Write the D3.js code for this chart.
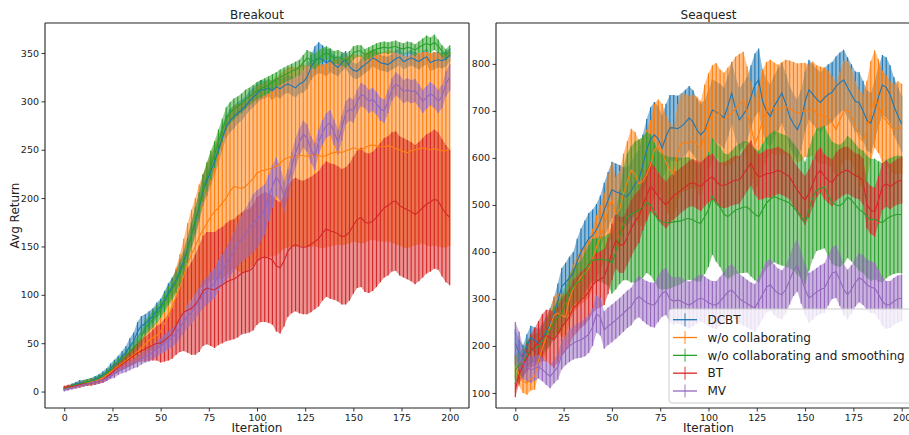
<!DOCTYPE html>
<html>
<head>
<meta charset="utf-8">
<script src="https://cdn.jsdelivr.net/npm/d3@7"></script>
<style>
  body { margin: 0; background: #fff; }
  svg { display: block; font-family: "DejaVu Sans", sans-serif; }
</style>
</head>
<body>
<svg width="909" height="435"></svg>
<script>
// iterations are sampled every 2 steps (0..200)
const iterations = d3.range(0, 201, 2);
const seriesNames = ["DCBT", "w/o collaborating", "w/o collaborating and smoothing", "BT", "MV"];
const colors = ["#1f77b4", "#ff7f0e", "#2ca02c", "#d62728", "#9467bd"];
const xTicks = [0, 25, 50, 75, 100, 125, 150, 175, 200];
const breakoutYTicks = [0, 50, 100, 150, 200, 250, 300, 350];
const seaquestYTicks = [100, 200, 300, 400, 500, 600, 700, 800];

// ---- Breakout: mean returns ----
const breakoutDCBT = [3,4,6,8,9,9,10,11,13,15,17,
  20,24,28,31,36,40,47,52,62,68,
  70,74,78,84,88,95,102,108,115,125,
  135,148,162,175,190,208,218,228,238,250,
  262,274,280,284,288,291,295,300,304,308,
  312,312,314,311,315,313,316,318,316,314,
  318,320,325,335,342,345,343,340,342,338,
  335,340,343,336,332,331,335,338,341,345,
  343,340,339,338,341,344,346,341,343,345,
  343,341,344,346,340,342,343,342,344,348];
const breakoutNoCollab = [3,4,5,6,7,8,9,10,11,12,14,
  17,20,23,26,29,32,35,38,41,45,
  49,53,56,58,62,70,78,88,98,108,
  120,132,142,150,160,167,174,181,186,190,
  195,200,207,212,211,210,212,216,220,226,
  228,229,230,231,233,236,240,242,243,242,
  244,244,243,244,245,244,243,244,246,247,
  248,247,249,250,252,251,250,252,254,255,
  254,253,253,254,253,251,250,248,247,249,
  250,251,252,251,250,251,250,249,249,251];
const breakoutNoCollabSmooth = [3,4,6,7,8,9,10,11,12,14,16,
  19,22,26,30,33,37,41,45,50,56,
  66,70,75,80,85,92,99,106,113,122,
  132,146,162,177,192,210,222,234,245,258,
  270,282,288,292,295,298,302,305,308,311,
  313,315,317,320,322,325,327,329,331,333,
  335,340,345,343,341,345,348,350,348,345,
  346,344,342,345,350,352,352,348,350,352,
  354,355,356,355,356,357,355,354,356,355,
  353,356,358,360,358,361,357,352,348,352];
const breakoutBT = [4,5,5,6,7,8,8,9,10,11,12,
  15,18,22,25,28,31,34,37,40,42,
  44,46,48,50,50,53,56,60,68,76,
  82,84,86,90,96,104,107,106,105,108,
  110,113,115,116,119,122,124,125,128,135,
  138,139,138,136,130,128,135,145,150,152,
  150,149,150,152,155,158,164,168,166,165,
  163,160,161,165,172,178,180,175,174,176,
  180,185,190,192,196,197,192,190,188,186,
  183,186,190,194,196,199,197,190,184,180];
const breakoutMV = [2,3,4,5,6,7,8,9,10,11,12,
  14,16,18,21,23,25,27,29,31,34,
  36,38,41,44,47,50,53,56,60,66,
  72,78,82,88,94,100,104,108,112,120,
  126,132,138,145,152,158,163,168,174,178,
  183,188,200,212,222,215,202,215,232,247,
  258,266,262,250,243,258,268,275,278,268,
  258,272,288,292,290,300,307,305,300,302,
  298,292,290,300,312,318,315,310,312,310,
  311,306,300,304,308,305,300,305,318,325];

// ---- Breakout: error (half width) ----
const breakoutDCBTErr = [2,2,2,2,3,3,3,3,3,3,4,
  4,5,5,6,6,7,8,9,10,10,
  10,9,8,8,8,9,10,10,11,12,
  12,13,14,15,15,16,16,15,14,14,
  13,12,12,12,11,11,10,10,10,10,
  10,9,9,10,10,10,9,9,10,10,
  10,11,12,13,15,16,15,14,12,10,
  9,9,9,8,8,8,9,9,9,9,
  9,8,8,8,8,9,9,8,8,8,
  8,8,8,8,9,9,8,8,8,7];
const breakoutNoCollabErr = [2,2,2,2,3,3,3,3,3,3,4,
  4,5,5,6,6,7,7,8,9,10,
  11,12,13,14,16,18,22,26,30,34,
  38,42,46,50,54,58,62,66,70,74,
  78,80,82,84,86,88,88,89,90,90,
  90,90,91,91,92,92,92,93,93,93,
  93,94,94,94,95,95,95,95,96,96,
  96,96,97,97,97,97,97,98,98,98,
  98,98,98,99,99,99,99,99,99,99,
  99,99,99,100,100,100,100,100,100,100];
const breakoutNoCollabSmoothErr = [2,2,2,2,2,3,3,3,3,3,3,
  4,4,5,5,5,6,6,7,7,8,
  8,8,9,9,9,10,10,11,11,12,
  12,13,13,14,14,14,15,15,14,13,
  12,12,11,11,10,10,10,9,9,9,
  9,9,9,8,8,8,8,8,8,8,
  8,8,8,8,8,8,7,7,7,7,
  7,7,7,7,7,6,6,6,6,6,
  6,6,6,6,6,6,6,6,6,6,
  6,6,7,8,8,8,7,6,6,6];
const breakoutBTErr = [2,2,2,2,2,2,2,3,3,3,3,
  4,4,5,5,6,7,8,9,10,11,
  13,14,16,18,20,22,24,26,30,35,
  40,44,48,52,55,57,58,59,60,60,
  60,61,62,62,63,63,64,64,65,66,
  66,67,67,67,68,68,68,68,69,69,
  69,69,70,70,70,70,70,70,70,70,
  70,70,71,71,71,71,72,72,72,72,
  72,72,72,72,72,72,72,72,72,72,
  72,72,72,72,72,72,71,71,71,70];
const breakoutMVErr = [2,2,2,2,2,2,2,2,3,3,3,
  3,3,4,4,4,5,5,5,6,6,
  6,7,7,8,8,9,9,10,10,11,
  11,12,12,13,13,14,14,15,15,16,
  16,17,18,20,22,24,26,28,30,30,
  28,26,24,22,20,18,16,15,15,15,
  14,14,14,14,14,13,13,13,13,13,
  13,13,12,12,12,12,12,12,12,12,
  12,12,12,12,12,12,12,12,12,12,
  12,12,12,12,12,12,12,12,13,14];

// ---- Seaquest: mean returns ----
const seaquestDCBT = [206,185,177,200,218,212,206,218,230,245,268,
  295,326,335,345,355,380,400,415,428,435,
  447,465,489,510,532,528,525,520,518,530,
  545,553,585,617,640,649,640,621,645,664,
  664,662,667,675,685,676,660,649,658,680,
  702,698,692,685,710,738,705,681,692,705,
  730,755,766,720,700,688,710,724,738,715,
  688,672,660,681,720,745,735,725,718,728,
  735,740,752,760,766,750,735,720,718,700,
  680,674,700,730,755,750,735,710,690,672];
const seaquestNoCollab = [156,140,125,121,130,135,170,195,220,241,265,
  270,265,262,300,322,335,347,355,365,385,
  410,430,454,490,511,480,490,525,550,574,
  565,545,550,565,585,617,624,615,590,574,
  565,610,632,632,632,636,630,617,650,675,
  695,702,690,681,688,695,705,715,724,695,
  665,630,650,681,700,709,705,702,706,709,
  705,700,695,698,702,700,705,695,690,690,
  685,675,660,680,700,702,690,665,645,635,
  660,700,725,710,688,680,668,660,665,662];
const seaquestNoCollabSmooth = [149,160,164,180,191,196,198,210,225,234,250,
  262,270,290,313,325,335,340,355,370,383,
  383,385,383,383,376,400,432,460,475,480,
  485,489,495,505,500,485,468,464,462,462,
  464,465,466,470,471,468,463,461,475,490,
  518,505,496,480,475,482,489,492,495,496,
  488,480,475,490,504,512,518,514,511,508,
  504,495,486,475,462,490,515,532,535,538,
  520,505,500,498,505,517,510,500,490,485,
  475,468,470,465,462,470,475,478,480,479];
const seaquestBT = [106,140,160,175,190,198,208,218,222,218,213,
  225,240,250,262,280,288,298,305,315,330,
  338,342,347,370,400,425,415,415,432,450,
  465,475,500,520,539,530,518,508,500,510,
  520,525,532,538,545,547,543,539,548,555,
  560,550,542,542,545,550,553,553,565,578,
  589,570,560,562,567,567,570,574,570,565,
  560,545,532,520,510,525,545,565,574,560,
  553,547,560,567,572,574,568,562,560,550,
  500,489,485,510,539,545,539,545,550,553];
const seaquestMV = [206,190,164,155,149,152,156,150,142,135,145,
  156,180,191,200,206,210,213,218,225,240,
  268,262,234,242,248,255,262,270,278,284,
  298,305,298,292,288,287,300,312,316,300,
  295,298,295,290,287,292,298,302,298,292,
  288,287,295,305,315,319,310,300,295,290,
  285,281,295,310,325,330,320,312,309,320,
  340,360,372,345,320,302,308,315,320,323,
  340,355,358,340,320,309,320,335,345,340,
  330,325,323,310,295,287,288,295,300,302];

// ---- Seaquest: error (half width) ----
const seaquestDCBTErr = [30,28,25,25,25,28,30,30,32,35,35,
  38,40,42,45,45,48,50,52,55,55,
  55,55,58,60,60,60,60,60,62,62,
  62,64,65,66,68,70,70,70,70,70,
  70,70,70,70,68,68,66,66,65,65,
  65,65,65,65,65,66,66,66,67,67,
  67,67,67,68,68,68,66,66,64,64,
  64,64,64,64,64,64,64,64,64,64,
  64,64,64,64,64,64,64,64,64,64,
  64,64,64,64,64,64,62,62,60,60];
const seaquestNoCollabErr = [25,25,25,25,25,28,30,32,35,38,40,
  42,45,48,50,52,55,58,60,62,65,
  68,70,72,75,78,80,82,84,86,88,
  90,92,94,95,96,98,100,100,100,100,
  102,104,105,103,100,98,100,104,106,105,
  102,100,98,100,104,108,110,106,102,100,
  98,100,104,106,104,100,98,96,98,100,
  102,104,106,104,100,98,100,102,104,102,
  100,98,100,104,106,104,100,98,100,102,
  104,106,104,100,98,96,95,96,98,96];
const seaquestNoCollabSmoothErr = [30,30,30,30,30,30,30,32,33,34,35,
  36,37,38,39,40,41,42,43,44,45,
  46,48,50,55,65,80,100,120,135,145,
  150,150,150,150,150,148,146,144,142,140,
  138,136,134,132,130,128,126,124,122,122,
  124,126,128,130,132,134,136,138,140,140,
  140,140,140,140,140,140,140,140,140,140,
  138,136,134,132,130,130,130,130,130,130,
  130,130,130,130,130,130,130,130,130,130,
  130,130,128,128,127,126,125,125,125,125];
const seaquestBTErr = [15,20,25,30,35,40,45,50,55,58,60,
  60,60,60,60,60,60,60,60,60,60,
  60,60,60,60,60,60,60,60,60,60,
  58,56,55,54,53,52,51,50,50,50,
  50,49,48,48,49,50,51,52,51,50,
  49,48,48,49,50,51,52,51,50,49,
  48,48,49,50,51,52,51,50,49,48,
  48,49,50,51,52,51,50,49,48,48,
  49,50,51,52,51,50,49,48,48,49,
  50,51,52,51,50,49,48,48,49,50];
const seaquestMVErr = [45,40,35,30,28,26,25,25,25,25,25,
  28,30,32,34,35,36,38,40,40,40,
  40,40,40,40,40,40,40,40,40,40,
  42,44,45,46,47,48,49,50,50,50,
  50,50,50,50,50,50,50,50,50,50,
  50,51,52,53,54,55,54,53,52,51,
  50,51,52,53,54,55,54,53,52,51,
  52,54,56,55,54,53,52,51,52,53,
  54,55,56,55,54,53,52,51,52,53,
  54,55,54,53,52,51,50,50,50,50];

const svg = d3.select("svg");
const plotTop = 23, plotBottom = 408;

const panels = [
  {
    title: "Breakout", left: 45, right: 469, yDomain: [-17, 381], yTicks: breakoutYTicks,
    means: [breakoutDCBT, breakoutNoCollab, breakoutNoCollabSmooth, breakoutBT, breakoutMV],
    errs: [breakoutDCBTErr, breakoutNoCollabErr, breakoutNoCollabSmoothErr, breakoutBTErr, breakoutMVErr],
    ylabel: "Avg Return", legend: false
  },
  {
    title: "Seaquest", left: 496, right: 921, yDomain: [68, 887], yTicks: seaquestYTicks,
    means: [seaquestDCBT, seaquestNoCollab, seaquestNoCollabSmooth, seaquestBT, seaquestMV],
    errs: [seaquestDCBTErr, seaquestNoCollabErr, seaquestNoCollabSmoothErr, seaquestBTErr, seaquestMVErr],
    ylabel: null, legend: true
  }
];

panels.forEach((p, pi) => drawPanel(p, pi));

function drawPanel(p, pi) {
  const x = d3.scaleLinear().domain([-10, 210]).range([p.left, p.right]);
  const y = d3.scaleLinear().domain(p.yDomain).range([plotBottom, plotTop]);

  const clipId = "clip" + pi;
  svg.append("clipPath").attr("id", clipId).append("rect")
    .attr("x", p.left).attr("y", plotTop)
    .attr("width", p.right - p.left).attr("height", plotBottom - plotTop);

  const plot = svg.append("g").attr("clip-path", `url(#${clipId})`);

  const rows = p.means.map((m, k) => iterations.map((it, i) => ({ it: it, m: m[i], e: p.errs[k][i] })));

  // shaded bands first, then the error bars, then the mean lines on top
  rows.forEach((r, k) => {
    plot.append("path").datum(r)
      .attr("fill", colors[k]).attr("fill-opacity", 0.5)
      .attr("d", d3.area().x(d => x(d.it)).y0(d => y(d.m - d.e)).y1(d => y(d.m + d.e)));
  });
  rows.forEach((r, k) => {
    plot.append("g").selectAll("line").data(r).join("line")
      .attr("x1", d => x(d.it)).attr("x2", d => x(d.it))
      .attr("y1", d => y(d.m - d.e)).attr("y2", d => y(d.m + d.e))
      .attr("stroke", colors[k]).attr("stroke-width", 1.15);
  });
  rows.forEach((r, k) => {
    plot.append("path").datum(r)
      .attr("fill", "none").attr("stroke", colors[k]).attr("stroke-width", 1.1)
      .attr("d", d3.line().x(d => x(d.it)).y(d => y(d.m)));
  });

  // axes
  const xAxis = svg.append("g").attr("transform", `translate(0,${plotBottom})`)
    .call(d3.axisBottom(x).tickValues(xTicks).tickSize(3.5).tickPadding(2.5));
  const yAxis = svg.append("g").attr("transform", `translate(${p.left},0)`)
    .call(d3.axisLeft(y).tickValues(p.yTicks).tickSize(3.5).tickPadding(2.5));
  [xAxis, yAxis].forEach(a => {
    a.select(".domain").remove();
    a.selectAll("text").attr("font-size", 9.5).attr("fill", "#222")
      .attr("font-family", "DejaVu Sans");
    a.selectAll("line").attr("stroke", "#222").attr("stroke-width", 0.9);
  });

  // spines
  const spine = svg.append("g").attr("stroke", "#222").attr("stroke-width", 1.1).attr("fill", "none");
  spine.append("line").attr("x1", p.left).attr("x2", p.left).attr("y1", plotTop).attr("y2", plotBottom);
  spine.append("line").attr("x1", p.left).attr("x2", p.right).attr("y1", plotTop).attr("y2", plotTop);
  spine.append("line").attr("x1", p.left).attr("x2", p.right).attr("y1", plotBottom).attr("y2", plotBottom);
  spine.append("line").attr("x1", p.right).attr("x2", p.right).attr("y1", plotTop).attr("y2", plotBottom);

  svg.append("text").attr("x", (p.left + p.right) / 2).attr("y", 19)
    .attr("text-anchor", "middle").attr("font-size", 12).attr("fill", "#222").text(p.title);
  svg.append("text").attr("x", (p.left + p.right) / 2).attr("y", 432)
    .attr("text-anchor", "middle").attr("font-size", 12).attr("fill", "#222").text("Iteration");
  if (p.ylabel) {
    svg.append("text").attr("transform", `translate(19,${(plotTop + plotBottom) / 2}) rotate(-90)`)
      .attr("text-anchor", "middle").attr("font-size", 12).attr("fill", "#222").text(p.ylabel);
  }

  if (p.legend) drawLegend();
}

function drawLegend() {
  const lg = svg.append("g");
  lg.append("rect").attr("x", 669).attr("y", 309).attr("width", 250).attr("height", 94)
    .attr("rx", 3).attr("fill", "#fff").attr("fill-opacity", 0.8)
    .attr("stroke", "#cccccc").attr("stroke-width", 1);
  const rowY = d3.scalePoint().domain(seriesNames).range([319.7, 391]);
  const item = lg.selectAll("g.item").data(seriesNames).join("g")
    .attr("class", "item").attr("transform", d => `translate(0,${rowY(d)})`);
  item.append("line").attr("x1", 673).attr("x2", 697).attr("y1", 0).attr("y2", 0)
    .attr("stroke", (d, i) => colors[i]).attr("stroke-width", 1.3);
  item.append("line").attr("x1", 685).attr("x2", 685).attr("y1", -6.5).attr("y2", 6.5)
    .attr("stroke", (d, i) => colors[i]).attr("stroke-width", 1.3).attr("stroke-opacity", 0.7);
  item.append("text").attr("x", 707.5).attr("y", 4.3).attr("font-size", 12).attr("fill", "#222")
    .text(d => d);
}
</script>
</body>
</html>
